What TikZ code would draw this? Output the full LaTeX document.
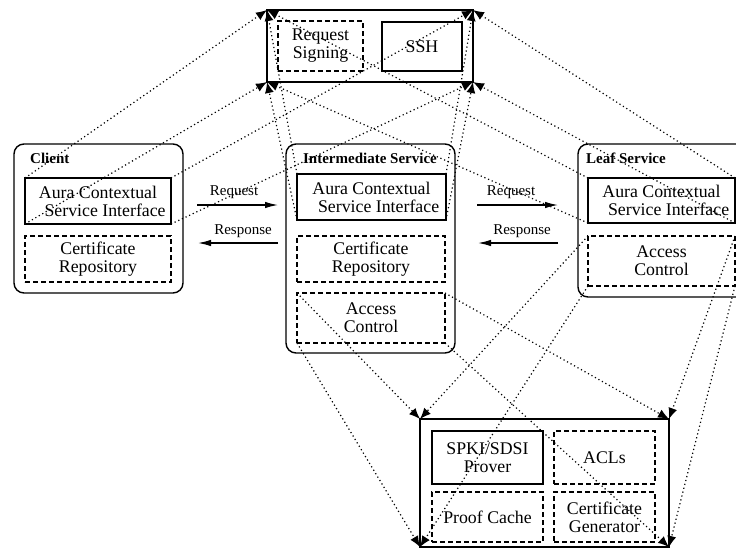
\documentclass[tikz,border=0pt]{standalone}
\usepackage{fontspec}
\setmainfont{Liberation Serif}
\usetikzlibrary{arrows.meta}
\begin{document}
\begin{tikzpicture}[x=1pt,y=-1pt,
  txt/.style={font=\fontsize{17.8}{18}\selectfont, align=center},
  solidbox/.style={draw, line width=1.3pt, inner sep=0pt, outer sep=0pt, txt},
  dashbox/.style={solidbox, line width=1.2pt, dash pattern=on 5pt off 3pt},
  svcbox/.style={draw, line width=1.4pt, rounded corners=10pt, inner sep=0pt, outer sep=0pt},
  title/.style={font=\bfseries\fontsize{15}{16}\selectfont, inner sep=0pt},
  msg/.style={font=\fontsize{15}{16}\selectfont, inner sep=0pt},
  proj/.style={line width=1.2pt, dash pattern=on 1.2pt off 2.8pt, -{Latex[length=11pt,width=9pt]}},
  msgarrow/.style={line width=1.3pt, -{Latex[length=13pt,width=6.5pt]}}
]
\useasboundingbox (0,0) rectangle (736,550);
\clip (0,0) rectangle (736,550);

% top box
\node[solidbox, line width=1.4pt, minimum width=206pt, minimum height=72pt] (top) at (370,46) {};
\node[dashbox, minimum width=85pt, minimum height=50pt] (rs) at (320.5,46) {Request\\Signing};
\node[solidbox, minimum width=80pt, minimum height=49pt] (ssh) at (422,46.5) {SSH};

% client
\node[svcbox, minimum width=169pt, minimum height=149pt] (client) at (98.5,218.5) {};
\node[title, anchor=west] (clientlbl) at (30,158) {Client};
\node[solidbox, minimum width=146pt, minimum height=46pt] (cACSI) at (98,201) {Aura Contextual\\\hspace*{0.8em}Service Interface};
\node[dashbox, minimum width=146pt, minimum height=46pt] (cCR) at (98,259) {Certificate\\Repository};

% intermediate
\node[svcbox, minimum width=169pt, minimum height=209pt] (inter) at (370.5,248.5) {};
\node[title] (interlbl) at (370,158) {Intermediate Service};
\node[solidbox, minimum width=149pt, minimum height=46pt] (iACSI) at (371.5,197) {Aura Contextual\\\hspace*{0.8em}Service Interface};
\node[dashbox, minimum width=148pt, minimum height=46pt] (iCR) at (371,259) {Certificate\\Repository};
\node[dashbox, minimum width=148pt, minimum height=50pt] (iAC) at (371,318) {Access\\Control};

% leaf
\node[svcbox, minimum width=170pt, minimum height=153pt] (leaf) at (663,220.5) {};
\node[title, anchor=west] (leaflbl) at (586,158) {Leaf Service};
\node[solidbox, minimum width=147pt, minimum height=45pt] (lACSI) at (661.5,200.5) {Aura Contextual\\\hspace*{0.8em}Service Interface};
\node[dashbox, minimum width=147pt, minimum height=50pt] (lAC) at (661.5,261) {Access\\Control};

% bottom box
\node[solidbox, line width=1.4pt, minimum width=249pt, minimum height=128pt] (bot) at (544.5,483) {};
\node[solidbox, minimum width=111pt, minimum height=53pt] (spki) at (487.5,457.5) {SPKI/SDSI\\Prover};
\node[dashbox, minimum width=101pt, minimum height=53pt] (acls) at (604.5,457.5) {ACLs};
\node[dashbox, minimum width=111pt, minimum height=50pt] (pc) at (487.5,517) {Proof Cache};
\node[dashbox, minimum width=101pt, minimum height=50pt] (cg) at (604.5,517) {Certificate\\Generator};

% messages
\coordinate (rq1a) at (197,205); \coordinate (rq1b) at (278,205);
\coordinate (rs1a) at (278,243); \coordinate (rs1b) at (198,243);
\coordinate (rq2a) at (477,205); \coordinate (rq2b) at (558,205);
\coordinate (rs2a) at (558,243); \coordinate (rs2b) at (478,243);
\draw[msgarrow] (rq1a) -- (rq1b);
\draw[msgarrow] (rs1a) -- (rs1b);
\draw[msgarrow] (rq2a) -- (rq2b);
\draw[msgarrow] (rs2a) -- (rs2b);
\node[msg] (rq1l) at (234,192) {Request};
\node[msg] (rs1l) at (243,231) {Response};
\node[msg] (rq2l) at (511,192) {Request};
\node[msg] (rs2l) at (522,231) {Response};

% projection lines
\foreach \s in {cACSI,iACSI,lACSI}
  \foreach \a in {north west,north east,south west,south east}
    \draw[proj] (\s.\a) -- (top.\a);
\foreach \s in {iAC,lAC}
  \foreach \a in {north west,north east,south west,south east}
    \draw[proj] (\s.\a) -- (bot.\a);
\end{tikzpicture}
\end{document}
